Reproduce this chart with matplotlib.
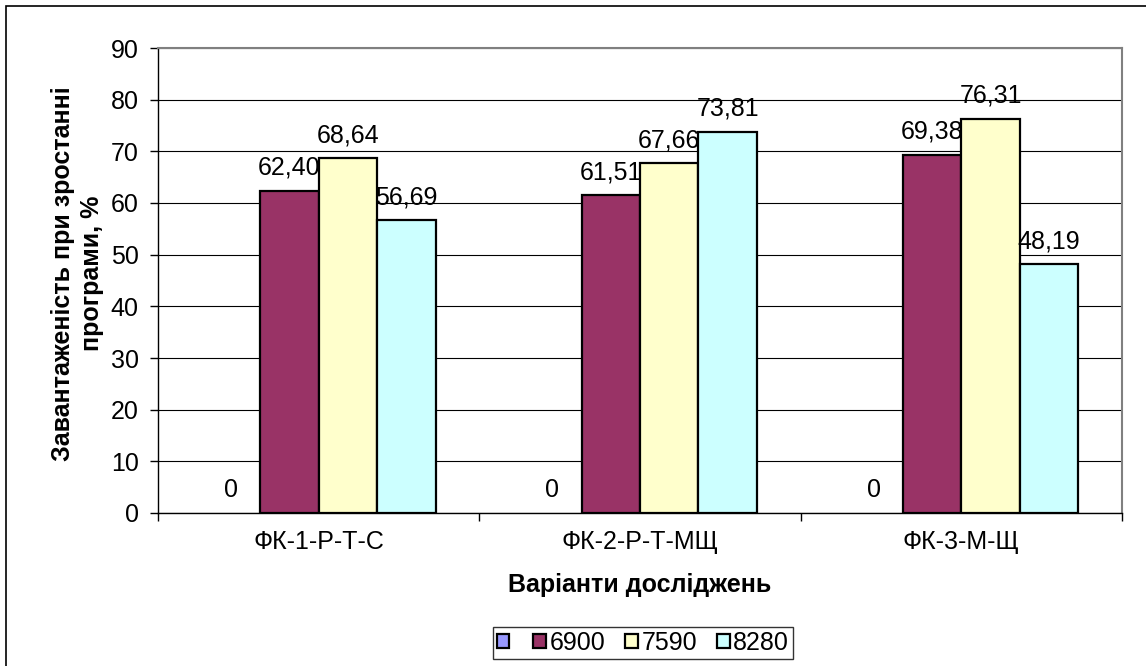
import numpy as np
import matplotlib.pyplot as plt
from matplotlib.patches import Rectangle

plt.rcParams['font.family'] = ['Liberation Sans', 'DejaVu Sans']

categories = ['ФК-1-Р-Т-С', 'ФК-2-Р-Т-МЩ', 'ФК-3-М-Щ']
series_names = ['', '6900', '7590', '8280']
values = [
    [0, 0, 0],
    [62.40, 61.51, 69.38],
    [68.64, 67.66, 76.31],
    [56.69, 73.81, 48.19],
]
colors = ['#9999FF', '#993366', '#FFFFCC', '#CCFFFF']
yticks = np.arange(0, 91, 10)

fig = plt.figure(figsize=(11.46, 6.66), dpi=100)
ax = fig.add_axes([158/1146, 1 - 513/666, (1122-158)/1146, (513-48)/666])

# frame around the whole chart
fig.patches.append(Rectangle((6/1146, -0.05), 1.1, 1 - 6/666 + 0.05,
                             transform=fig.transFigure, fill=False,
                             edgecolor='black', linewidth=1.2))

w = 1 / 5.5
x = np.arange(len(categories))
for i, (vals, c) in enumerate(zip(values, colors)):
    pos = x - 2 * w + w / 2 + i * w
    lw = [1.6 if v > 0 else 0 for v in vals]
    ax.bar(pos, vals, w, color=c, edgecolor='black', linewidth=lw, zorder=3)
    for p, v in zip(pos, vals):
        txt = '0' if v == 0 else f'{v:.2f}'.replace('.', ',')
        ax.text(p, v + 2.1, txt, ha='center', va='bottom', fontsize=18, zorder=4)

ax.set_xlim(-0.5, len(categories) - 0.5)
ax.set_ylim(0, 90)
ax.set_yticks(yticks)
ax.set_yticklabels([str(t) for t in yticks])
ax.set_xticks(x)
ax.set_xticklabels(categories)
ax.set_xticks(np.arange(-0.5, len(categories), 1), minor=True)
ax.tick_params(axis='x', which='major', length=0, pad=12, labelsize=18)
ax.tick_params(axis='x', which='minor', length=6, width=1, direction='out')
ax.tick_params(axis='y', length=6, width=1, direction='out', labelsize=18, pad=8)
ax.grid(axis='y', color='black', linewidth=0.8, zorder=0)
ax.set_axisbelow(True)

for s in ['top', 'right']:
    ax.spines[s].set_color('#808080')
    ax.spines[s].set_linewidth(1.5)
for s in ['left', 'bottom']:
    ax.spines[s].set_color('black')
    ax.spines[s].set_linewidth(1.0)

ax.set_ylabel('Завантаженість при зростанні\nпрограми, %', fontsize=18,
              fontweight='bold', linespacing=1.25)
ax.yaxis.set_label_coords(-0.056, 0.515)
ax.set_xlabel('Варіанти досліджень', fontsize=18, fontweight='bold', labelpad=14)

# legend swatches, including the unnamed series
handles = [Rectangle((0, 0), 1, 1, facecolor=c, edgecolor='black', linewidth=1.6)
           for c in colors]
leg = fig.legend(handles=handles, labels=series_names, loc='center',
                 bbox_to_anchor=(643/1146, 1 - 643/666), ncol=4, fontsize=18,
                 frameon=True, fancybox=False, edgecolor='black',
                 handlelength=0.5, handleheight=0.5, handletextpad=0.15,
                 columnspacing=0.8, borderpad=0.15)
leg.get_frame().set_linewidth(1.0)

fig.savefig('out.png', dpi=100)
